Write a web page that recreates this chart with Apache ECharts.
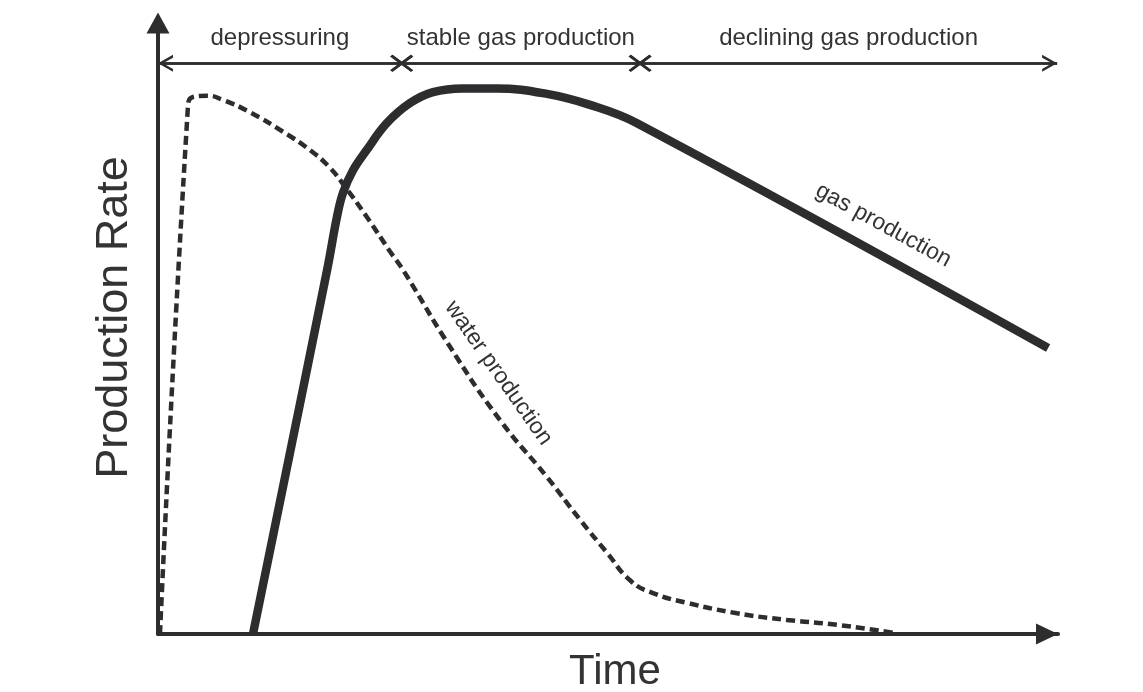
<!DOCTYPE html>
<html>
<head>
    <meta charset="UTF-8">
    <title>Production Rate vs Time</title>
    <script type="text/javascript" src="https://cdn.jsdelivr.net/npm/echarts@6/dist/echarts.min.js"></script>
    <style type="text/css">
        html, body { margin: 0; padding: 0; background: #fff; }
        #chart { width: 1143px; height: 692px; }
    </style>
</head>
<body>
<div id="chart"></div>
<script type="text/javascript">
    // gas production curve (time, rate)
    var gasTime = [10.66, 18.98, 20.09, 20.76, 21.89, 23.42, 25.67, 28.28, 30.86, 34.23, 38.05, 43.66, 48.48, 53.76, 99.89];
    var gasRate = [0, 59.6, 68.3, 72.2, 75.9, 79.2, 83.6, 86.9, 88.7, 89.3, 89.3, 88.4, 86.6, 83.6, 46.8];

    // water production curve (time, rate)
    var waterTime = [0.22, 3.37, 3.93, 5.50, 7.29, 10.32, 14.03, 17.06, 19.30, 20.99, 23.46, 26.04, 27.49,
        32.77, 38.38, 43.65, 47.36, 50.39, 52.97, 55.55, 59.37, 64.98, 70.59, 76.20, 82.48];
    var waterRate = [0, 86.6, 87.9, 88.1, 87.4, 85.4, 82.2, 79.2, 76.3, 73.2, 68.2, 62.6, 59.6,
        47.0, 35.0, 25.7, 18.7, 13.3, 8.8, 6.7, 5.1, 3.4, 2.3, 1.5, 0.2];

    // production phases along the top
    var phaseNames = ['depressuring', 'stable gas production', 'declining gas production'];
    var phaseBounds = [0, 27.35, 54.1, 100.9];
    var phaseLevel = 93.4;

    // curve labels
    var gasLabel = 'gas production';
    var gasLabelAt = [81.4, 66.9];
    var waterLabel = 'water production';
    var waterLabelAt = [38.2, 42.7];

    var FONT = "'Liberation Sans', Arial, Helvetica, sans-serif";
    var INK = '#2d2d30';
    var TEXT = '#333333';

    // open chevron with its tip at the symbol centre (the lone point pads the box)
    var CHEVRON = 'path://M9,0L9,0ZM9,15L18,30L15,30L9,20L3,30L0,30Z';
    var CROSS = 'path://M0,2L2,0L20,18L18,20ZM18,0L20,2L2,20L0,18Z';

    function pairs(t, v) {
        var out = [];
        for (var i = 0; i < t.length; i++) out.push([t[i], v[i]]);
        return out;
    }

    var phaseLines = [[
        {coord: [phaseBounds[0], phaseLevel], symbol: 'none', label: {show: false}},
        {coord: [phaseBounds[3], phaseLevel], symbol: 'none', label: {show: false}}
    ]];
    for (var i = 0; i < phaseNames.length; i++) {
        var first = i === 0, last = i === phaseNames.length - 1;
        phaseLines.push([
            {name: phaseNames[i], coord: [phaseBounds[i], phaseLevel],
                symbol: first ? CHEVRON : CROSS, symbolSize: first ? [17, 30] : [17, 23]},
            {name: phaseNames[i], coord: [phaseBounds[i + 1], phaseLevel],
                symbol: last ? CHEVRON : CROSS, symbolSize: last ? [17, 30] : [17, 23]}
        ]);
    }

    var myChart = echarts.init(document.getElementById('chart'));
    myChart.setOption({
        animation: false,
        backgroundColor: '#ffffff',
        grid: {left: 158, right: 85, top: 23, bottom: 58, containLabel: false, outerBoundsMode: 'none'},
        xAxis: {
            type: 'value', min: 0, max: 101,
            axisLine: {
                show: true, onZero: false,
                lineStyle: {color: INK, width: 4},
                symbol: ['none', 'triangle'], symbolSize: [21, 22], symbolOffset: [0, -11]
            },
            axisTick: {show: false}, axisLabel: {show: false}, splitLine: {show: false},
            name: 'Time', nameLocation: 'middle', nameGap: 17,
            nameTextStyle: {fontSize: 42, color: TEXT, fontFamily: FONT, padding: [0, 0, 0, 14]}
        },
        yAxis: {
            type: 'value', min: 0, max: 100,
            axisLine: {
                show: true, onZero: false,
                lineStyle: {color: INK, width: 4},
                symbol: ['none', 'triangle'], symbolSize: [23, 21]
            },
            axisTick: {show: false}, axisLabel: {show: false}, splitLine: {show: false},
            name: 'Production Rate', nameLocation: 'middle', nameGap: 21,
            nameTextStyle: {fontSize: 45, color: TEXT, fontFamily: FONT, padding: [0, 0, 0, 22]}
        },
        series: [
            {
                name: 'gas production',
                type: 'line',
                data: pairs(gasTime, gasRate),
                showSymbol: false,
                smooth: 0.4,
                silent: true,
                lineStyle: {color: INK, width: 8.5, cap: 'butt', join: 'round'},
                markLine: {
                    silent: true,
                    symbol: 'none',
                    lineStyle: {color: INK, width: 2.5, type: 'solid'},
                    label: {
                        show: true, position: 'middle', formatter: '{b}', distance: 13,
                        color: TEXT, fontSize: 24, fontFamily: FONT
                    },
                    emphasis: {disabled: true},
                    data: phaseLines
                },
                markPoint: {
                    silent: true,
                    symbol: 'circle', symbolSize: 1,
                    itemStyle: {color: 'rgba(0,0,0,0)'},
                    label: {
                        show: true, position: 'inside', formatter: '{b}', rotate: -28.7,
                        color: TEXT, fontSize: 23, fontFamily: FONT
                    },
                    data: [{name: gasLabel, coord: gasLabelAt}]
                }
            },
            {
                name: 'water production',
                type: 'line',
                data: pairs(waterTime, waterRate),
                showSymbol: false,
                smooth: 0.5,
                silent: true,
                lineStyle: {color: INK, width: 4.5, type: [9, 5], cap: 'butt'},
                markPoint: {
                    silent: true,
                    symbol: 'circle', symbolSize: 1,
                    itemStyle: {color: 'rgba(0,0,0,0)'},
                    label: {
                        show: true, position: 'inside', formatter: '{b}', rotate: -55,
                        color: TEXT, fontSize: 23, fontFamily: FONT
                    },
                    data: [{name: waterLabel, coord: waterLabelAt}]
                }
            }
        ]
    });
</script>
</body>
</html>
